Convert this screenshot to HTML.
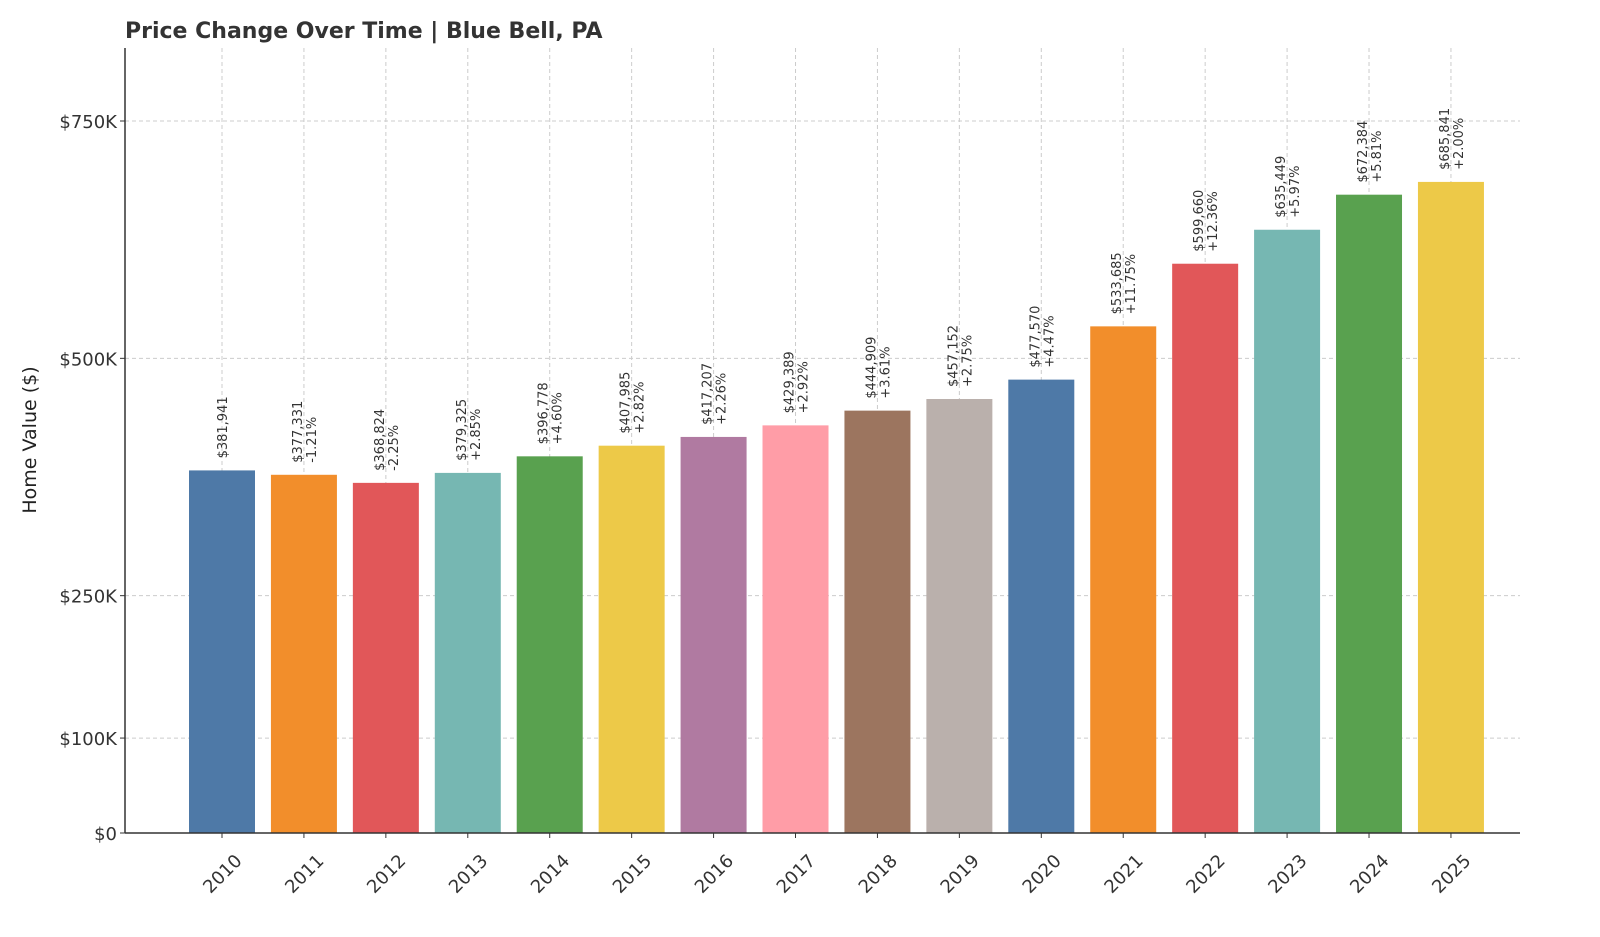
<!DOCTYPE html>
<html><head><meta charset="utf-8"><style>
body{margin:0;background:#fff;font-family:"DejaVu Sans","Liberation Sans",sans-serif}
</style></head><body>
<svg id="chart" width="1600" height="933" xmlns="http://www.w3.org/2000/svg" font-family="DejaVu Sans, Liberation Sans, sans-serif">
<text x="125" y="38" font-size="22" font-weight="bold" fill="#333">Price Change Over Time | Blue Bell, PA</text>
<text transform="translate(36,440) rotate(-90)" text-anchor="middle" font-size="19" fill="#222">Home Value ($)</text>
<g id="grid"></g><g id="bars"></g><g id="labels"></g><g id="axes"></g>
</svg>
<script>
const years=["2010","2011","2012","2013","2014","2015","2016","2017","2018","2019","2020","2021","2022","2023","2024","2025"];
const values=[381941,377331,368824,379325,396778,407985,417207,429389,444909,457152,477570,533685,599660,635449,672384,685841];
const changes=["","-1.21%","-2.25%","+2.85%","+4.60%","+2.82%","+2.26%","+2.92%","+3.61%","+2.75%","+4.47%","+11.75%","+12.36%","+5.97%","+5.81%","+2.00%"];
const yTicks=[0,100000,250000,500000,750000];
const yTickLabels=["$0","$100K","$250K","$500K","$750K"];
const colors=["#4e79a7","#f28e2b","#e15759","#76b7b2","#59a14f","#edc948","#b07aa1","#ff9da7","#9c755f","#bab0ac"];
const NS="http://www.w3.org/2000/svg";
const y0=833,pxPer=712/750000,x0=222,step=81.93,bw=66,left=125,right=1520,plotTop=48;
const Y=v=>y0-v*pxPer, X=i=>x0+i*step;
function mk(t,a,p){const e=document.createElementNS(NS,t);for(const k in a)e.setAttribute(k,a[k]);p.appendChild(e);return e;}
const grid=document.getElementById('grid'),bars=document.getElementById('bars'),labels=document.getElementById('labels'),axes=document.getElementById('axes');
yTicks.forEach((v,i)=>{
 const l=mk('line',{x1:left,x2:right,y1:Y(v),y2:Y(v),stroke:'#ccc','stroke-dasharray':'4,3'},grid);
 
 
 const t=mk('text',{x:left-8,y:Y(v)+7,'text-anchor':'end','font-size':18,fill:'#333'},axes);
 t.textContent=yTickLabels[i];
 
 
 mk('line',{x1:left-5,x2:left,y1:Y(v),y2:Y(v),stroke:'#333'},axes);
});
years.forEach((yr,i)=>{
 const cx=X(i);
 const g=mk('line',{x1:cx,x2:cx,y1:plotTop,y2:y0,stroke:'#ccc','stroke-dasharray':'4,3'},grid);
 
 
 const r=mk('rect',{x:cx-bw/2,y:Y(values[i]),width:bw,height:y0-Y(values[i]),fill:colors[i%10]},bars);
 
 
 const by=Y(values[i])-12;
 const off=changes[i]?7:0;
 const t1=mk('text',{transform:`translate(${cx-off+5},${by}) rotate(-90)`,'font-size':13,fill:'#333'},labels);
 t1.textContent='$'+values[i].toLocaleString('en-US');
 
 
 if(changes[i]){
  const t2=mk('text',{transform:`translate(${cx+off+5},${by}) rotate(-90)`,'font-size':13,fill:'#333'},labels);
  t2.textContent=changes[i];
  
  
 }
 mk('line',{x1:cx,x2:cx,y1:y0,y2:y0+5,stroke:'#333'},axes);
 const xl=mk('text',{transform:`translate(${cx+12},${y0+20}) rotate(-45)`,'text-anchor':'end','font-size':18,fill:'#333',dy:'0.7em'},axes);
 xl.textContent=yr;
 
 
});
const ya=mk('line',{x1:left,x2:left,y1:plotTop,y2:y0,stroke:'#333','stroke-width':1.5},axes);


const xa=mk('line',{x1:left,x2:right,y1:y0,y2:y0,stroke:'#333','stroke-width':1.5},axes);


</script>
</body></html>
